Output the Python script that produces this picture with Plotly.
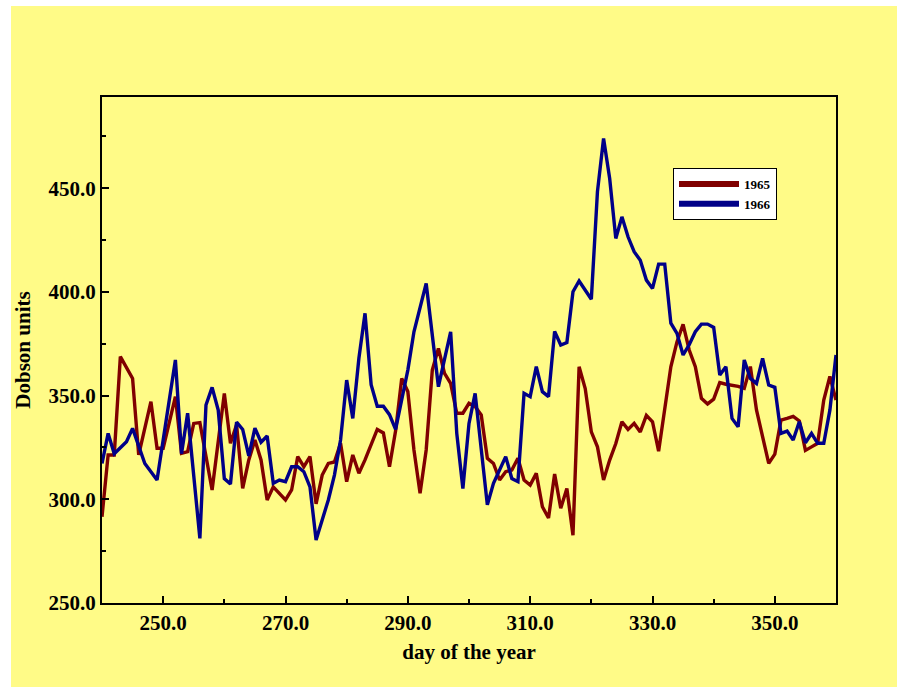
import plotly.graph_objects as go

# ---- data ----
days_1965 = [240, 241, 242, 243, 245, 246, 248, 249, 250, 252, 253, 254, 255, 256, 258, 260,
             261, 262, 263, 264, 265, 266, 267, 268, 270, 271, 272, 273, 274, 275, 276, 277,
             278, 279, 280, 281, 282, 283, 285, 286, 287, 288, 289, 290, 291, 292, 293, 294,
             295, 296, 297, 298, 299, 300, 301, 302, 303, 304, 305, 306, 307, 308, 309, 310,
             311, 312, 313, 314, 315, 316, 317, 318, 319, 320, 321, 322, 323, 324, 325, 326,
             327, 328, 329, 330, 331, 332, 333, 334, 335, 336, 337, 338, 339, 340, 341, 342,
             343, 344, 345, 346, 347, 348, 349, 350, 351, 352, 353, 354, 355, 356, 357, 358,
             359, 360]
ozone_1965 = [291.6, 321.4, 321.4, 368.8, 358.3, 321.4, 347.1, 324.6, 324.6, 349.5, 322.2, 323.0,
              336.6, 337.0, 304.5, 351.1, 327.0, 336.0, 305.3, 319.0, 328.6, 319.0, 299.7, 306.0,
              299.7, 304.5, 320.6, 315.7, 320.6, 297.8, 311.7, 317.3, 318.0, 327.0, 308.5, 321.4,
              312.6, 319.0, 333.7, 332.0, 315.7, 333.0, 358.3, 352.0, 323.8, 302.9, 323.8, 362.3,
              372.8, 360.7, 355.9, 341.5, 341.5, 346.3, 344.7, 340.7, 319.8, 317.3, 309.3, 313.3,
              314.1, 319.8, 309.3, 306.9, 312.5, 296.4, 291.0, 312.2, 295.7, 305.2, 282.7, 363.9,
              353.4, 332.5, 325.3, 309.3, 318.9, 326.9, 337.4, 333.7, 336.6, 332.5, 340.5, 337.4,
              323.2, 343.0, 363.9, 375.9, 384.4, 372.0, 364.0, 348.7, 346.0, 348.3, 356.3, 355.5,
              355.0, 354.5, 353.5, 364.0, 343.1, 331.0, 317.3, 321.8, 338.2, 339.0, 340.0, 337.8,
              323.6, 325.3, 327.0, 347.9, 359.2, 347.9]

days_1966 = [240, 241, 242, 244, 245, 247, 249, 252, 253, 254, 256, 257, 258, 259, 260, 261,
             262, 263, 264, 265, 266, 267, 268, 269, 270, 271, 272, 273, 274, 275, 277, 278,
             279, 280, 281, 282, 283, 284, 285, 286, 287, 288, 289, 290, 291, 293, 295, 297,
             298, 299, 300, 301, 303, 304, 306, 307, 308, 309, 310, 311, 312, 313, 314, 315,
             316, 317, 318, 319, 320, 321, 322, 323, 324, 325, 326, 327, 328, 329, 330, 331,
             332, 333, 334, 335, 336, 337, 338, 339, 340, 341, 342, 343, 344, 345, 346, 347,
             348, 349, 350, 351, 352, 353, 354, 355, 356, 357, 358, 359, 360]
ozone_1966 = [317.3, 331.8, 322.0, 327.8, 334.2, 317.3, 309.3, 367.2, 322.0, 341.5, 281.2, 345.5,
              354.0, 343.0, 310.0, 307.4, 337.2, 333.7, 321.0, 334.3, 327.5, 330.5, 307.7, 309.3,
              308.5, 315.7, 315.7, 313.3, 306.0, 280.4, 299.7, 311.7, 328.6, 357.5, 339.0, 368.0,
              389.7, 355.3, 344.9, 344.9, 340.8, 333.7, 348.0, 362.3, 380.8, 404.1, 354.3, 380.8,
              331.8, 305.2, 336.6, 351.1, 297.3, 307.7, 320.6, 310.0, 308.5, 351.1, 349.5, 364.0,
              351.9, 349.5, 381.0, 374.4, 375.6, 400.1, 405.3, 401.0, 396.5, 448.4, 474.0, 454.7,
              425.8, 436.2, 426.6, 419.4, 415.3, 405.7, 401.7, 413.4, 413.4, 384.9, 380.0, 369.6,
              374.5, 380.8, 384.5, 384.5, 382.9, 359.9, 363.9, 339.0, 335.0, 367.2, 358.3, 355.9,
              367.9, 355.1, 354.0, 331.8, 332.9, 328.6, 337.4, 327.3, 331.8, 327.0, 327.0, 343.0,
              369.6]

series_names = ["1965", "1966"]
x_tick_values = [250, 270, 290, 310, 330, 350]
y_tick_values = [250, 300, 350, 400, 450]

assert len(days_1965) == len(ozone_1965)
assert len(days_1966) == len(ozone_1966)

RED = "#800000"
BLUE = "#000088"
YELLOW = "#FFFB87"
FONT = "Liberation Serif"

W, H = 897, 687
ML, MT = 102, 97
MR = W - 836
MB = H - 603
PW, PH = W - ML - MR, H - MT - MB

fig = go.Figure()
fig.add_trace(go.Scatter(x=days_1965, y=ozone_1965, mode="lines", name=series_names[0],
                         line=dict(color=RED, width=3.4), showlegend=False))
fig.add_trace(go.Scatter(x=days_1966, y=ozone_1966, mode="lines", name=series_names[1],
                         line=dict(color=BLUE, width=3.4), showlegend=False))
# legend entries (thicker samples, as in the reference)
fig.add_trace(go.Scatter(x=[None], y=[None], mode="lines", name=series_names[0],
                         line=dict(color=RED, width=6)))
fig.add_trace(go.Scatter(x=[None], y=[None], mode="lines", name=series_names[1],
                         line=dict(color=BLUE, width=6)))


def px_x(p):  # page pixel -> paper fraction
    return (p - ML) / PW


def px_y(p):
    return (H - MB - p) / PH


axis_common = dict(
    showgrid=False, zeroline=False, showline=True, linecolor="black", linewidth=2,
    mirror=True, ticks="inside", ticklen=7, tickwidth=1.5, tickcolor="black",
    tickformat=".1f",
    tickfont=dict(family=FONT, size=21, color="black", weight="bold"),
)
title_font = dict(family=FONT, size=21, color="black", weight="bold")

fig.update_layout(
    width=W, height=H,
    margin=dict(l=ML, r=MR, t=MT, b=MB, autoexpand=False),
    paper_bgcolor="white",
    plot_bgcolor="rgba(0,0,0,0)",
    xaxis=dict(range=[240, 360], tickvals=x_tick_values,
               minor=dict(dtick=10, tick0=240, ticks="inside", ticklen=4, tickcolor="black"),
               title=dict(text="day of the year", standoff=10, font=title_font),
               **axis_common),
    yaxis=dict(range=[250, 494], tickvals=y_tick_values,
               minor=dict(dtick=25, tick0=250, ticks="inside", ticklen=4, tickcolor="black"),
               title=dict(text="Dobson units", standoff=12, font=title_font),
               **axis_common),
    legend=dict(x=px_x(673), y=px_y(168), xanchor="left", yanchor="top",
                bgcolor="white", bordercolor="black", borderwidth=1,
                font=dict(family=FONT, size=13, color="black", weight="bold"),
                itemwidth=60, tracegroupgap=0),
    shapes=[dict(type="rect", xref="paper", yref="paper", layer="below",
                 x0=px_x(11), x1=px_x(W + 10), y0=px_y(H + 10), y1=px_y(6),
                 fillcolor=YELLOW, line=dict(width=0))],
)

fig.write_html("out.html", config={"displayModeBar": False},
               post_script="document.body.style.margin='0';document.body.style.overflow='hidden';")
